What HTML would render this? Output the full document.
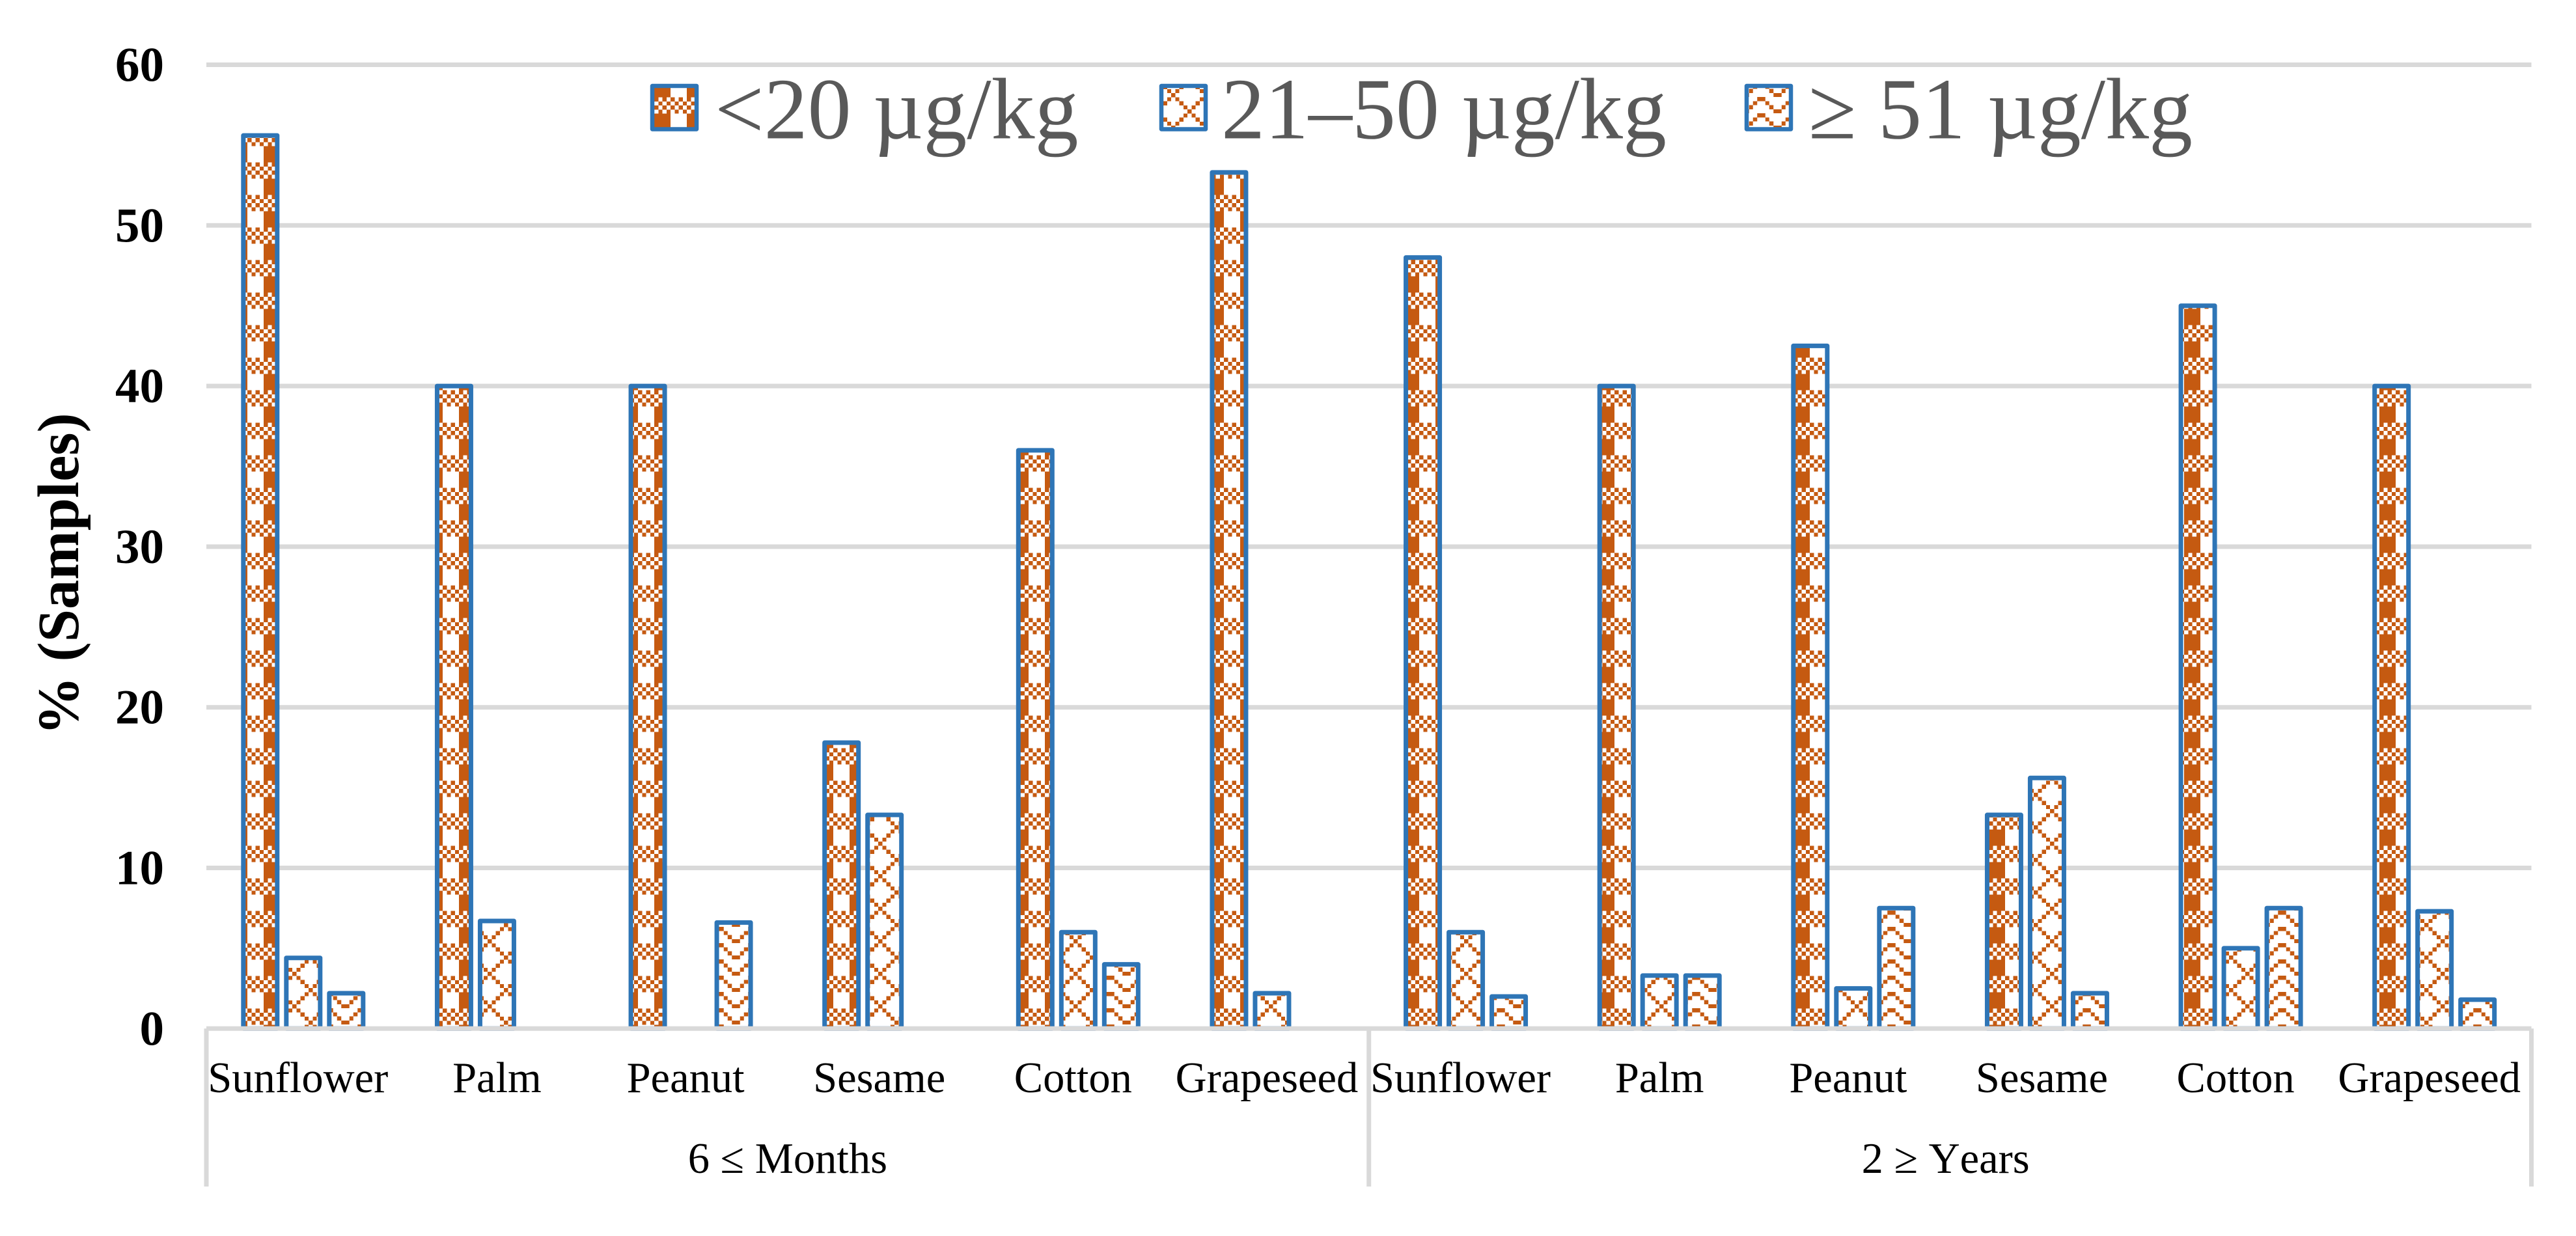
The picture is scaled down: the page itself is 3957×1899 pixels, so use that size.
<!DOCTYPE html>
<html>
<head>
<meta charset="utf-8">
<title>Samples by storage time</title>
<style>
html,body{margin:0;padding:0;background:#fff;}
svg{display:block;font-family:"Liberation Serif","Noto Serif CJK SC",serif;font-kerning:none;}
</style>
</head>
<body>
<svg id="chart" xmlns="http://www.w3.org/2000/svg" width="3957" height="1899" viewBox="0 0 3957 1899">
<rect x="0" y="0" width="3957" height="1899" fill="#ffffff"/>
<defs id="defs"></defs>
<g id="grid"></g>
<g id="bars"></g>
<g id="axes"></g>
<g id="legend"></g>
<text transform="translate(120,882) rotate(-90)" text-anchor="middle" font-size="90.5" font-weight="bold" fill="#000">% (Samples)</text>
</svg>
<script>
var oils = ["Sunflower","Palm","Peanut","Sesame","Cotton","Grapeseed"];
var groups = ["6 ≤ Months","2 ≥ Years"];
var yTicks = [0,10,20,30,40,50,60];
var seriesNames = ["<20 µg/kg","21–50 µg/kg","≥ 51 µg/kg"];
var lowValues = [55.6,40,40,17.8,36,53.3,48,40,42.5,13.3,45,40];
var midValues = [4.4,6.7,0,13.3,6,2.2,6,3.3,2.5,15.6,5,7.3];
var highValues = [2.2,0,6.6,0,4,0,2,3.3,7.5,2.2,7.5,1.8];

var NS = "http://www.w3.org/2000/svg";
var ORANGE = "#c55a11", BLUE = "#2e75b6", GRID = "#d9d9d9";
var LEFT = 317, RIGHT = 3888.5, BASE = 1580.3, UNIT = 24.68;
var SLOT = (RIGHT - LEFT) / 12, STEP = 66, BARW = 52, CELL = 6.25;

function xSlot(i){ return LEFT + SLOT * (i + 0.5); }
function yVal(v){ return BASE - v * UNIT; }
function el(tag, attrs, parent){
  var e = document.createElementNS(NS, tag);
  for (var k in attrs) e.setAttribute(k, attrs[k]);
  parent.appendChild(e);
  return e;
}
function makePattern(id, ox, oy, w, h, rule){
  var p = el("pattern", {id:id, patternUnits:"userSpaceOnUse", x:ox, y:oy, width:w*CELL, height:h*CELL}, document.getElementById("defs"));
  el("rect", {x:0, y:0, width:w*CELL, height:h*CELL, fill:"#fff"}, p);
  for (var r = 0; r < h; r++) for (var c = 0; c < w; c++) {
    if (rule(c, r)) el("rect", {x:c*CELL, y:r*CELL, width:CELL, height:CELL, fill:ORANGE, "shape-rendering":"crispEdges"}, p);
  }
}
makePattern("p0", 5, 24.5, 8, 8, function(c, r){ return r < 4 ? c < 4 : (r % 2 === 0 ? c % 2 === 0 : c % 2 === 1); });
makePattern("p1", -1, 43, 8, 8, function(c, r){ return c === r || (c + r) % 8 === 0; });
makePattern("p2", 30.25, 24, 8, 4, function(c, r){ return [[3,4],[2,5],[1,6],[0,7]][r].indexOf(c) >= 0; });

var gridG = document.getElementById("grid");
var axesG = document.getElementById("axes");
var barsG = document.getElementById("bars");
var legendG = document.getElementById("legend");

yTicks.forEach(function(t){
  if (t !== 0) {
    var gl = el("line", {x1:LEFT, x2:RIGHT, y1:yVal(t), y2:yVal(t), stroke:GRID, "stroke-width":7}, gridG);
    
    
  }
  var tl = el("text", {x:252, y:yVal(t)+25, "text-anchor":"end", "font-size":75, "font-weight":"bold", fill:"#000"}, axesG);
  
  
  tl.textContent = t;
});

var allSeries = [lowValues, midValues, highValues];
allSeries.forEach(function(vals, s){
  vals.forEach(function(v, i){
    var bar = el("rect", {x:xSlot(i)+(s-1)*STEP-BARW/2, y:yVal(v), width:BARW, height:Math.max(0, BASE-yVal(v)), fill:"url(#p"+s+")", stroke:BLUE, "stroke-width":7, "stroke-linejoin":"round"}, barsG);
    
    
  });
});

var baseLine = el("line", {x1:LEFT, x2:RIGHT, y1:BASE, y2:BASE, stroke:GRID, "stroke-width":7}, axesG);


[0, 6, 12].forEach(function(k){
  var x = LEFT + SLOT * k;
  var d = el("line", {x1:x, x2:x, y1:BASE, y2:1823, stroke:GRID, "stroke-width":7}, axesG);
  
  
});

for (var i = 0; i < 12; i++) {
  var word = oils[i % 6];
  var lab = el("text", {x:xSlot(i)+(word === "Palm" ? 0 : -8), y:1678, "text-anchor":"middle", "font-size":66.5, fill:"#000"}, axesG);
  
  
  lab.textContent = word;
}
groups.forEach(function(g, k){
  var gl = el("text", {x:LEFT+SLOT*(3+6*k)-(k?7:0), y:1802, "text-anchor":"middle", "font-size":66.5, fill:"#000"}, axesG);
  
  
  gl.textContent = g;
});

var swatchLeft = [1002, 1784, 2683];
var textLeft = [1098, 1876, 2778];
seriesNames.forEach(function(n, s){
  var sw = el("rect", {x:swatchLeft[s], y:132, width:68, height:66.5, fill:"url(#p"+s+")", stroke:BLUE, "stroke-width":6.5, "stroke-linejoin":"round"}, legendG);
  
  
  var t = el("text", {x:textLeft[s], y:212.5, "font-size":134, fill:"#595959"}, legendG);
  
  
  t.textContent = n;
});
</script>
</body>
</html>
